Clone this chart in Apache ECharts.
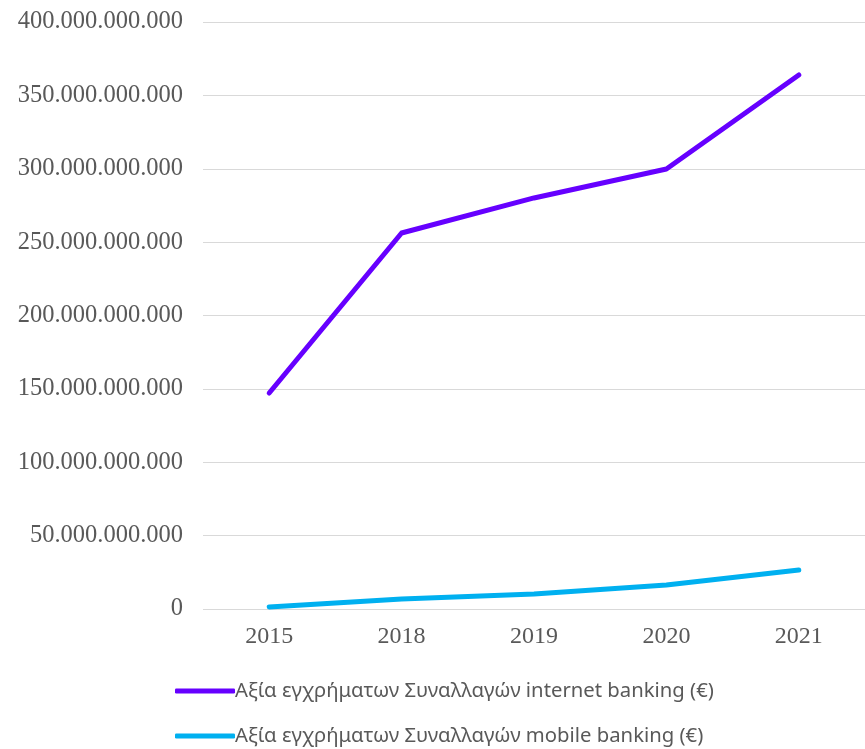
<!DOCTYPE html>
<html>
<head>
<meta charset="utf-8">
<script src="https://cdn.jsdelivr.net/npm/echarts@6/dist/echarts.min.js"></script>
<style>
html,body{margin:0;padding:0;background:#fff;}
#chart{width:865px;height:749px;}
</style>
</head>
<body>
<div id="chart"></div>
<script>
var years = ['2015', '2018', '2019', '2020', '2021'];
var internetBanking = [147200000000, 256200000000, 280100000000, 299800000000, 363900000000];
var mobileBanking = [1400000000, 6800000000, 10200000000, 16400000000, 26600000000];
var seriesNames = ['Αξία εγχρήματων Συναλλαγών internet banking (€)', 'Αξία εγχρήματων Συναλλαγών mobile banking (€)'];

function fmt(v) {
  return String(Math.round(v)).replace(/\B(?=(\d{3})+(?!\d))/g, '.');
}

function legendFor(name, top) {
  return {
    orient: 'horizontal',
    left: 175,
    top: top,
    padding: 0,
    itemWidth: 60,
    itemHeight: 5,
    icon: 'roundRect',
    textStyle: { fontFamily: 'Noto Sans', fontSize: 20.3, color: '#595959', padding: [0, 0, 0, -5] },
    data: [name]
  };
}

var chart = echarts.init(document.getElementById('chart'));
chart.setOption({
  animation: false,
  backgroundColor: '#ffffff',
  grid: { left: 203, right: -2, top: 22, bottom: 140, containLabel: false },
  legend: [legendFor(seriesNames[0], 681), legendFor(seriesNames[1], 726)],
  xAxis: {
    type: 'category',
    data: years,
    boundaryGap: true,
    axisLine: { show: false },
    axisTick: { show: false },
    axisLabel: { fontFamily: 'Liberation Serif', fontSize: 24, color: '#595959', margin: 16 }
  },
  yAxis: {
    type: 'value',
    min: 0,
    max: 400000000000,
    interval: 50000000000,
    axisLine: { show: false },
    axisTick: { show: false },
    splitLine: { lineStyle: { color: '#d9d9d9', width: 1 } },
    axisLabel: { fontFamily: 'Liberation Serif', fontSize: 24.5, color: '#595959', margin: 20, formatter: fmt }
  },
  series: [
    {
      name: seriesNames[0],
      type: 'line',
      data: internetBanking,
      symbol: 'none',
      lineStyle: { color: '#6600ff', width: 5, cap: 'round', join: 'round' },
      itemStyle: { color: '#6600ff' }
    },
    {
      name: seriesNames[1],
      type: 'line',
      data: mobileBanking,
      symbol: 'none',
      lineStyle: { color: '#00b0f0', width: 5, cap: 'round', join: 'round' },
      itemStyle: { color: '#00b0f0' }
    }
  ]
});
</script>
</body>
</html>
